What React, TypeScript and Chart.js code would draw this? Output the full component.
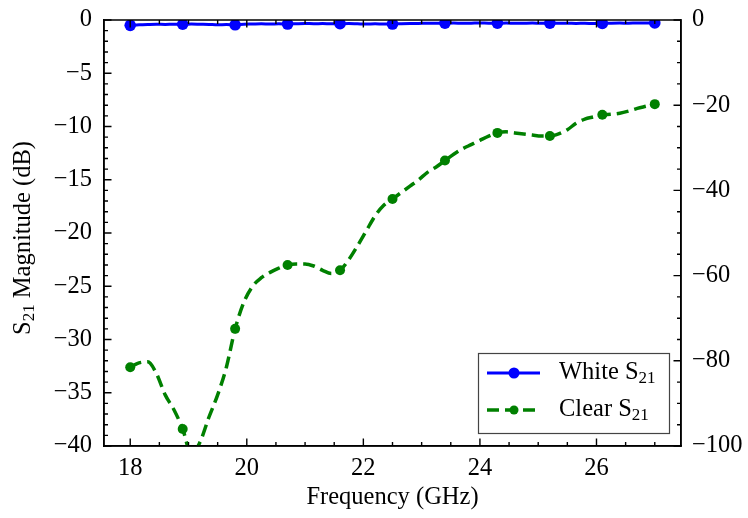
import React, { useEffect, useRef } from "react";
import { Chart, registerables } from "chart.js";

Chart.register(...registerables);

// Frequency grid (GHz)
const freqs = [
  18.0, 18.15, 18.3, 18.45, 18.6, 18.75, 18.9, 19.05, 19.2, 19.35, 19.5, 19.65,
  19.8, 19.95, 20.1, 20.25, 20.4, 20.55, 20.7, 20.85, 21.0, 21.15, 21.3, 21.45,
  21.6, 21.75, 21.9, 22.05, 22.2, 22.35, 22.5, 22.65, 22.8, 22.95, 23.1, 23.25,
  23.4, 23.55, 23.7, 23.85, 24.0, 24.15, 24.3, 24.45, 24.6, 24.75, 24.9, 25.05,
  25.2, 25.35, 25.5, 25.65, 25.8, 25.95, 26.1, 26.25, 26.4, 26.55, 26.7, 26.85,
  27.0,
];

// White S21 (dB)
const whiteS21 = [
  -0.5, -0.45, -0.42, -0.4, -0.42, -0.4, -0.4, -0.38, -0.4, -0.42, -0.45, -0.42,
  -0.45, -0.4, -0.38, -0.36, -0.38, -0.36, -0.38, -0.35, -0.33, -0.35, -0.34, -0.36,
  -0.35, -0.34, -0.36, -0.38, -0.36, -0.38, -0.38, -0.35, -0.33, -0.32, -0.3, -0.31,
  -0.3, -0.29, -0.31, -0.3, -0.28, -0.3, -0.3, -0.29, -0.31, -0.3, -0.29, -0.3,
  -0.3, -0.31, -0.3, -0.32, -0.31, -0.33, -0.32, -0.3, -0.29, -0.3, -0.28, -0.29,
  -0.28,
];

// Clear S21 (dB)
const clearS21 = [
  -32.6, -32.2, -32.1, -33.2, -35.2, -36.6, -38.4, -40.8, -39.6, -37.3, -35.2, -32.6,
  -29.0, -26.5, -25.0, -24.2, -23.7, -23.3, -23.0, -22.9, -22.9, -23.1, -23.5, -23.8,
  -23.5, -22.5, -21.2, -19.8, -18.4, -17.4, -16.8, -16.2, -15.6, -15.0, -14.3, -13.8,
  -13.2, -12.6, -12.1, -11.7, -11.3, -10.9, -10.6, -10.5, -10.6, -10.7, -10.8, -10.9,
  -10.9, -10.7, -10.3, -9.7, -9.3, -9.1, -8.9, -8.85, -8.75, -8.55, -8.3, -8.1,
  -7.9,
];

const seriesBase = ["White S", "Clear S"];
const seriesSub = ["21", "21"];

const xTicks = [18, 20, 22, 24, 26];
const yTicks = [0, -5, -10, -15, -20, -25, -30, -35, -40];
const y2Ticks = [0, -20, -40, -60, -80, -100];

const xLabel = "Frequency (GHz)";
const yLabelBase = "S";
const yLabelSub = "21";
const yLabelRest = " Magnitude (dB)";

const FONT = "'Liberation Serif', 'Times New Roman', serif";
const FS = 24.5;
const MARK_EVERY = 6;

const fmt = (v: number) => (v < 0 ? "\u2212" + Math.abs(v) : String(v));

function minorList(min: number, max: number, step: number) {
  const out: number[] = [];
  const start = Math.ceil(min / step - 1e-9);
  for (let k = start; k * step <= max + 1e-9; k++) out.push(k * step);
  return out;
}

function drawSubText(ctx: CanvasRenderingContext2D, x: number, y: number, base: string, sub: string, rest: string, size: number) {
  ctx.font = `${size}px ${FONT}`;
  ctx.fillText(base, x, y);
  let cx = x + ctx.measureText(base).width;
  const ss = Math.round(size * 0.7);
  ctx.font = `${ss}px ${FONT}`;
  ctx.fillText(sub, cx, y + size * 0.22);
  cx += ctx.measureText(sub).width;
  ctx.font = `${size}px ${FONT}`;
  ctx.fillText(rest, cx, y);
}

function subTextWidth(ctx: CanvasRenderingContext2D, base: string, sub: string, rest: string, size: number) {
  ctx.font = `${size}px ${FONT}`;
  let w = ctx.measureText(base).width + ctx.measureText(rest).width;
  ctx.font = `${Math.round(size * 0.7)}px ${FONT}`;
  w += ctx.measureText(sub).width;
  return w;
}

const decorPlugin = {
  id: "decor",
  afterDraw(chart: any) {
    const { ctx, chartArea: a, scales } = chart;
    const xs = scales.x, ys = scales.y, y2s = scales.y2;
    ctx.save();
    ctx.strokeStyle = "#000";
    ctx.lineWidth = 1.5;
    ctx.strokeRect(a.left, a.top, a.right - a.left, a.bottom - a.top);

    const major = 7.5, minor = 4;
    ctx.lineWidth = 1.4;
    ctx.beginPath();
    minorList(xs.min, xs.max, 0.5).forEach((v) => {
      const px = xs.getPixelForValue(v);
      const len = xTicks.includes(v) ? major : minor;
      ctx.moveTo(px, a.bottom);
      ctx.lineTo(px, a.bottom - len);
      ctx.moveTo(px, a.top);
      ctx.lineTo(px, a.top + len);
    });
    minorList(ys.min, ys.max, 1).forEach((v) => {
      const py = ys.getPixelForValue(v);
      const len = yTicks.includes(v) ? major : minor;
      ctx.moveTo(a.left, py);
      ctx.lineTo(a.left + len, py);
    });
    minorList(y2s.min, y2s.max, 5).forEach((v) => {
      const py = y2s.getPixelForValue(v);
      const len = y2Ticks.includes(v) ? major : minor;
      ctx.moveTo(a.right, py);
      ctx.lineTo(a.right - len, py);
    });
    ctx.stroke();

    // y title
    ctx.fillStyle = "#000";
    ctx.textBaseline = "middle";
    ctx.textAlign = "left";
    const tw = subTextWidth(ctx, yLabelBase, yLabelSub, yLabelRest, FS);
    ctx.save();
    ctx.translate(24, (a.top + a.bottom) / 2 + 5);
    ctx.rotate(-Math.PI / 2);
    drawSubText(ctx, -tw / 2, 0, yLabelBase, yLabelSub, yLabelRest, FS);
    ctx.restore();

    // x title
    ctx.font = `${FS}px ${FONT}`;
    ctx.textAlign = "center";
    ctx.fillText(xLabel, (a.left + a.right) / 2, 498);

    // legend
    const lx = 478, ly = 353, lw = 191, lh = 80;
    ctx.fillStyle = "rgba(255,255,255,0.85)";
    ctx.fillRect(lx, ly, lw, lh);
    ctx.strokeStyle = "#444";
    ctx.lineWidth = 1.2;
    ctx.strokeRect(lx + 0.5, ly + 0.5, lw, lh);
    const rows = [ly + 20, ly + 57];
    chart.data.datasets.forEach((ds: any, i: number) => {
      const ry = rows[i];
      ctx.strokeStyle = ds.borderColor;
      ctx.lineWidth = ds.borderWidth;
      ctx.setLineDash(ds.borderDash || []);
      ctx.beginPath();
      ctx.moveTo(lx + 9, ry);
      ctx.lineTo(lx + 62, ry);
      ctx.stroke();
      ctx.setLineDash([]);
      ctx.fillStyle = ds.borderColor;
      ctx.beginPath();
      ctx.arc(lx + 36, ry, ds.legendRadius, 0, Math.PI * 2);
      ctx.fill();
      ctx.fillStyle = "#000";
      ctx.textAlign = "left";
      ctx.textBaseline = "middle";
      drawSubText(ctx, lx + 81, ry, seriesBase[i], seriesSub[i], "", FS);
    });
    ctx.restore();
  },
};

export default function App() {
  const ref = useRef<HTMLCanvasElement | null>(null);
  useEffect(() => {
    if (!ref.current) return;
    const whitePts = freqs.map((f, i) => ({ x: f, y: whiteS21[i] }));
    const clearPts = freqs.map((f, i) => ({ x: f, y: clearS21[i] }));
    const tickFont = { family: FONT, size: FS };
    const chart = new Chart(ref.current, {
      type: "line",
      data: {
        datasets: [
          {
            label: seriesBase[0] + seriesSub[0],
            data: whitePts,
            borderColor: "#0000ff",
            backgroundColor: "#0000ff",
            borderWidth: 3,
            pointRadius: (c: any) => (c.dataIndex % MARK_EVERY === 0 ? 5.8 : 0),
            pointBorderWidth: 0,
            pointBackgroundColor: "#0000ff",
            cubicInterpolationMode: "monotone",
            yAxisID: "y",
            legendRadius: 5.5,
          } as any,
          {
            label: seriesBase[1] + seriesSub[1],
            data: clearPts,
            borderColor: "#008000",
            backgroundColor: "#008000",
            borderWidth: 3.5,
            borderDash: [12, 6],
            pointRadius: (c: any) => (c.dataIndex % MARK_EVERY === 0 ? 5 : 0),
            pointBorderWidth: 0,
            pointBackgroundColor: "#008000",
            cubicInterpolationMode: "monotone",
            yAxisID: "y",
            clip: 0,
            legendRadius: 4.5,
          } as any,
        ],
      },
      options: {
        animation: false,
        responsive: false,
        layout: { padding: { top: 20, left: 0, right: 0, bottom: 0 } },
        plugins: { legend: { display: false }, tooltip: { enabled: false } },
        scales: {
          x: {
            type: "linear",
            min: 17.55,
            max: 27.45,
            grid: { display: false, drawTicks: false },
            border: { display: true, color: "#000", width: 1.5 },
            afterBuildTicks: (s: any) => {
              s.ticks = xTicks.map((v) => ({ value: v }));
            },
            afterFit: (s: any) => {
              s.height = 72;
              s.paddingLeft = 0;
              s.paddingRight = 0;
            },
            ticks: { color: "#000", font: tickFont, padding: 8, maxRotation: 0, callback: (v: any) => fmt(Number(v)) },
          },
          y: {
            type: "linear",
            position: "left",
            min: -40,
            max: 0,
            grid: { display: false, drawTicks: false },
            border: { display: true, color: "#000", width: 1.5 },
            afterBuildTicks: (s: any) => {
              s.ticks = yTicks.map((v) => ({ value: v }));
            },
            afterFit: (s: any) => {
              s.width = 104;
              s.paddingTop = 0;
              s.paddingBottom = 0;
            },
            ticks: { color: "#000", font: tickFont, padding: 12, callback: (v: any) => fmt(Number(v)) },
          },
          y2: {
            type: "linear",
            position: "right",
            min: -100,
            max: 0,
            grid: { display: false, drawTicks: false },
            border: { display: true, color: "#000", width: 1.5 },
            afterBuildTicks: (s: any) => {
              s.ticks = y2Ticks.map((v) => ({ value: v }));
            },
            afterFit: (s: any) => {
              s.width = 67;
              s.paddingTop = 0;
              s.paddingBottom = 0;
            },
            ticks: { color: "#000", font: tickFont, padding: 11, callback: (v: any) => fmt(Number(v)) },
          },
        },
      },
      plugins: [decorPlugin],
    } as any);
    return () => chart.destroy();
  }, []);
  return (
    <div style={{ position: "fixed", left: 0, top: 0, width: 748, height: 518, background: "#fff" }}>
      <canvas ref={ref} width={748} height={518} style={{ width: 748, height: 518, display: "block" }} />
    </div>
  );
}
